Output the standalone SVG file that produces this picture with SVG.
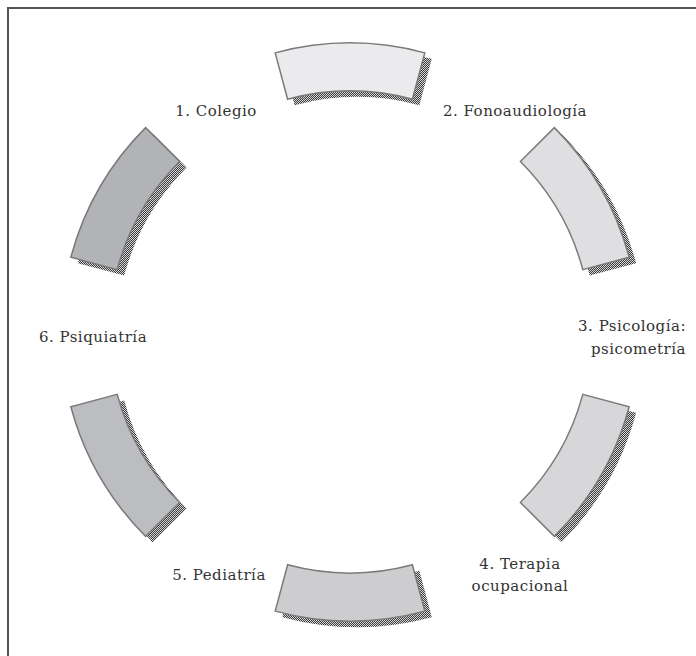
<svg xmlns="http://www.w3.org/2000/svg" xmlns:xlink="http://www.w3.org/1999/xlink" width="696" height="656" viewBox="0 0 696 656">
  <style>
    .lbl { font-family: "DejaVu Serif", "Liberation Serif", serif; font-size: 15px; letter-spacing: 0.5px; fill: #333; }
    .seg { stroke: #7a7a7a; stroke-width: 1.5; stroke-linejoin: miter; }
    .shadow { fill: url(#dots); stroke: none; }
  </style>
  <defs>
    <pattern id="dots" width="2" height="2" patternUnits="userSpaceOnUse">
      <rect width="2" height="2" fill="#d6d6d6"/>
      <rect width="1" height="1" fill="#3c3c3c"/>
      <rect x="1" y="1" width="1" height="1" fill="#3c3c3c"/>
    </pattern>
    <path id="p-top" d="M275.2,52.85 A289,289 0 0 1 424.8,52.85 L412.38,99.21 A241,241 0 0 0 287.62,99.21 Z"/>
    <path id="p-ur" d="M554.35,127.65 A289,289 0 0 1 629.15,257.2 L582.79,269.62 A241,241 0 0 0 520.41,161.59 Z"/>
    <path id="p-lr" d="M629.15,406.8 A289,289 0 0 1 554.35,536.35 L520.41,502.41 A241,241 0 0 0 582.79,394.38 Z"/>
    <path id="p-bot" d="M424.8,611.15 A289,289 0 0 1 275.2,611.15 L287.62,564.79 A241,241 0 0 0 412.38,564.79 Z"/>
    <path id="p-ll" d="M145.65,536.35 A289,289 0 0 1 70.85,406.8 L117.21,394.38 A241,241 0 0 0 179.59,502.41 Z"/>
    <path id="p-ul" d="M70.85,257.2 A289,289 0 0 1 145.65,127.65 L179.59,161.59 A241,241 0 0 0 117.21,269.62 Z"/>
  </defs>
  <rect width="696" height="656" fill="#fff"/>
  <path d="M8,656 V8 H696" fill="none" stroke="#555" stroke-width="2"/>
  <g id="connectors">
    <g id="shadows" transform="translate(7,6)">
      <use xlink:href="#p-top" class="shadow"/>
      <use xlink:href="#p-ur" class="shadow"/>
      <use xlink:href="#p-lr" class="shadow"/>
      <use xlink:href="#p-bot" class="shadow"/>
      <use xlink:href="#p-ll" class="shadow"/>
      <use xlink:href="#p-ul" class="shadow"/>
    </g>
    <use xlink:href="#p-top" class="seg" fill="#ebebed"/>
    <use xlink:href="#p-ur" class="seg" fill="#dfdfe1"/>
    <use xlink:href="#p-lr" class="seg" fill="#d7d7d9"/>
    <use xlink:href="#p-bot" class="seg" fill="#cdcdcf"/>
    <use xlink:href="#p-ll" class="seg" fill="#bcbdc0"/>
    <use xlink:href="#p-ul" class="seg" fill="#b2b3b6"/>
  </g>
  <g id="node-1"><text class="lbl" x="216" y="116" text-anchor="middle">1. Colegio</text></g>
  <g id="node-2"><text class="lbl" x="515" y="116" text-anchor="middle">2. Fonoaudiología</text></g>
  <g id="node-3"><text class="lbl" text-anchor="end"><tspan x="686" y="331">3. Psicología:</tspan><tspan x="686" y="354">psicometría</tspan></text></g>
  <g id="node-4"><text class="lbl" text-anchor="middle"><tspan x="520" y="569">4. Terapia</tspan><tspan x="520" y="591">ocupacional</tspan></text></g>
  <g id="node-5"><text class="lbl" x="219" y="580" text-anchor="middle">5. Pediatría</text></g>
  <g id="node-6"><text class="lbl" x="93" y="342" text-anchor="middle">6. Psiquiatría</text></g>
</svg>
